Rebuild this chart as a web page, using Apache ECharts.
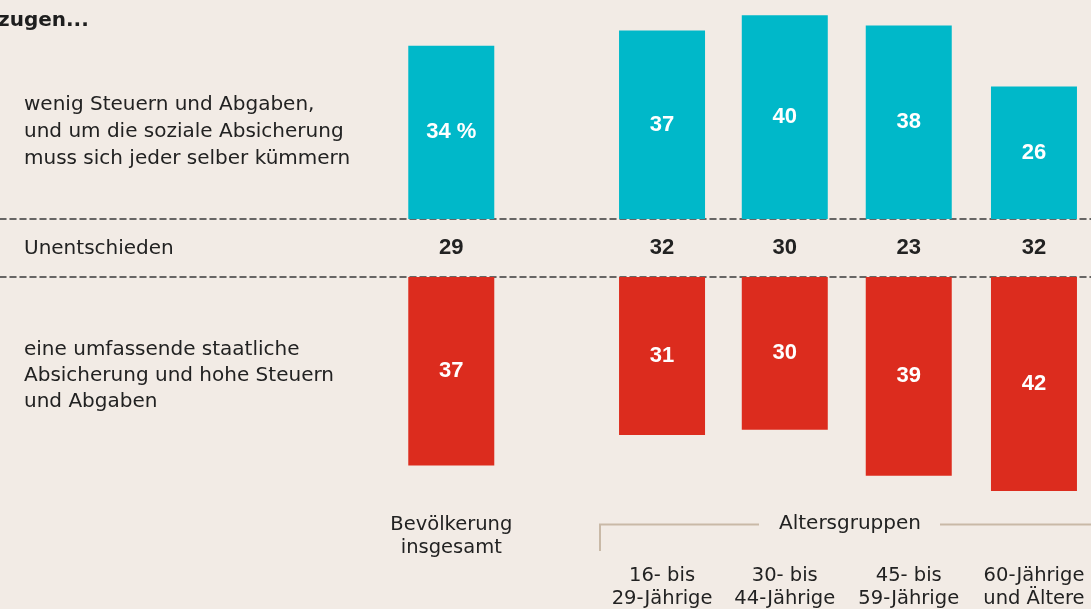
<!DOCTYPE html>
<html>
<head>
<meta charset="utf-8">
<script src="https://cdn.jsdelivr.net/npm/echarts@6/dist/echarts.min.js"></script>
<style>
  html, body { margin: 0; padding: 0; background: #f2ebe5; }
  #chart { width: 1091px; height: 609px; }
</style>
</head>
<body>
<div id="chart"></div>
<script>
// groups along the x axis
const groups = ['Bevölkerung\ninsgesamt', '16- bis\n29-Jährige', '30- bis\n44-Jährige', '45- bis\n59-Jährige', '60-Jährige\nund Ältere'];
// answers in percent
const wenigSteuern = [34, 37, 40, 38, 26];
const unentschieden = [29, 32, 30, 23, 32];
const staatlich = [37, 31, 30, 39, 42];

// layout: where each group sits on the shared value x axis
const slotX = [0, 1.7, 2.69, 3.69, 4.7];

const BG = '#f2ebe5';
const TEAL = '#00b8c9';
const RED = '#dc2c1e';
const TEXT = '#222222';
const SANS = '"DejaVu Sans", sans-serif';
const BOLD = '"Liberation Sans", Arial, sans-serif';

const chart = echarts.init(document.getElementById('chart'));

const xBase = { type: 'value', min: -3.64, max: 5.16, show: false };
const dashed = { show: true, lineStyle: { color: '#3a3a3a', width: 1.5, type: [6, 4] } };

chart.setOption({
  backgroundColor: BG,
  animation: false,
  grid: [
    { left: 0, right: 0, top: 0, height: 219 },     // teal bars
    { left: 0, right: 0, top: 219, height: 58 },    // undecided row
    { left: 0, right: 0, top: 277, height: 219 },   // red bars
    { left: 0, right: 0, top: 500, height: 109 }    // category labels
  ],
  xAxis: [
    Object.assign({}, xBase, { gridIndex: 0, show: true, axisLine: dashed, axisTick: { show: false }, axisLabel: { show: false }, splitLine: { show: false } }),
    Object.assign({}, xBase, { gridIndex: 1 }),
    Object.assign({}, xBase, { gridIndex: 2, show: true, position: 'top', axisLine: Object.assign({ onZero: false }, dashed), axisTick: { show: false }, axisLabel: { show: false }, splitLine: { show: false } }),
    Object.assign({}, xBase, { gridIndex: 3 })
  ],
  yAxis: [
    { gridIndex: 0, type: 'value', min: 0, max: 43, show: false },
    { gridIndex: 1, type: 'value', min: 0, max: 1, show: false },
    { gridIndex: 2, type: 'value', min: 0, max: 43, inverse: true, show: false },
    { gridIndex: 3, type: 'value', min: 0, max: 109, inverse: true, show: false }
  ],
  series: [
    {
      type: 'bar',
      xAxisIndex: 0, yAxisIndex: 0,
      barWidth: 86,
      itemStyle: { color: TEAL },
      data: wenigSteuern.map((v, i) => [slotX[i], v]),
      label: {
        show: true, position: 'inside', color: '#fff',
        fontFamily: BOLD, fontWeight: 'bold', fontSize: 22,
        formatter: p => p.dataIndex === 0 ? p.value[1] + ' %' : p.value[1]
      }
    },
    {
      type: 'scatter',
      xAxisIndex: 1, yAxisIndex: 1,
      symbolSize: 0,
      itemStyle: { color: BG, opacity: 1 },
      data: unentschieden.map((v, i) => [slotX[i], 0.5, v]),
      label: {
        show: true, position: 'inside', color: TEXT, opacity: 1,
        fontFamily: BOLD, fontWeight: 'bold', fontSize: 22,
        formatter: p => p.value[2]
      }
    },
    {
      type: 'bar',
      xAxisIndex: 2, yAxisIndex: 2,
      barWidth: 86,
      itemStyle: { color: RED },
      data: staatlich.map((v, i) => [slotX[i], v]),
      label: {
        show: true, position: 'inside', color: '#fff',
        fontFamily: BOLD, fontWeight: 'bold', fontSize: 22,
        formatter: p => p.value[1]
      }
    },
    {
      type: 'scatter',
      xAxisIndex: 3, yAxisIndex: 3,
      symbolSize: 0,
      itemStyle: { color: BG, opacity: 1 },
      data: groups.map((g, i) => ({ name: g, value: [slotX[i], i === 0 ? 36.5 : 87] })),
      label: {
        show: true, position: 'inside', color: TEXT, opacity: 1,
        fontFamily: SANS, fontSize: 19.5, lineHeight: 23, align: 'center',
        formatter: p => p.name
      }
    }
  ],
  graphic: [
    {
      type: 'text', left: -2, top: 11,
      style: { text: 'zugen...', fill: '#1e1e1e', font: 'bold 20px "DejaVu Sans", sans-serif' }
    },
    {
      type: 'text', left: 24, top: 91,
      style: {
        text: 'wenig Steuern und Abgaben,\nund um die soziale Absicherung\nmuss sich jeder selber kümmern',
        fill: TEXT, font: '20px "DejaVu Sans", sans-serif', lineHeight: 27
      }
    },
    {
      type: 'text', left: 24, top: 237,
      style: { text: 'Unentschieden', fill: TEXT, font: '20px "DejaVu Sans", sans-serif', lineHeight: 24 }
    },
    {
      type: 'text', left: 24, top: 337,
      style: {
        text: 'eine umfassende staatliche\nAbsicherung und hohe Steuern\nund Abgaben',
        fill: TEXT, font: '20px "DejaVu Sans", sans-serif', lineHeight: 26
      }
    },
    {
      type: 'text', left: 779, top: 512,
      style: { text: 'Altersgruppen', fill: TEXT, font: '20px "DejaVu Sans", sans-serif', lineHeight: 24 }
    },
    {
      type: 'polyline',
      shape: { points: [[600, 551], [600, 524.5], [759, 524.5]] },
      style: { stroke: '#c9b9a7', lineWidth: 2, fill: null }
    },
    {
      type: 'line',
      shape: { x1: 940, y1: 524.5, x2: 1091, y2: 524.5 },
      style: { stroke: '#c9b9a7', lineWidth: 2 }
    }
  ]
});
</script>
</body>
</html>
